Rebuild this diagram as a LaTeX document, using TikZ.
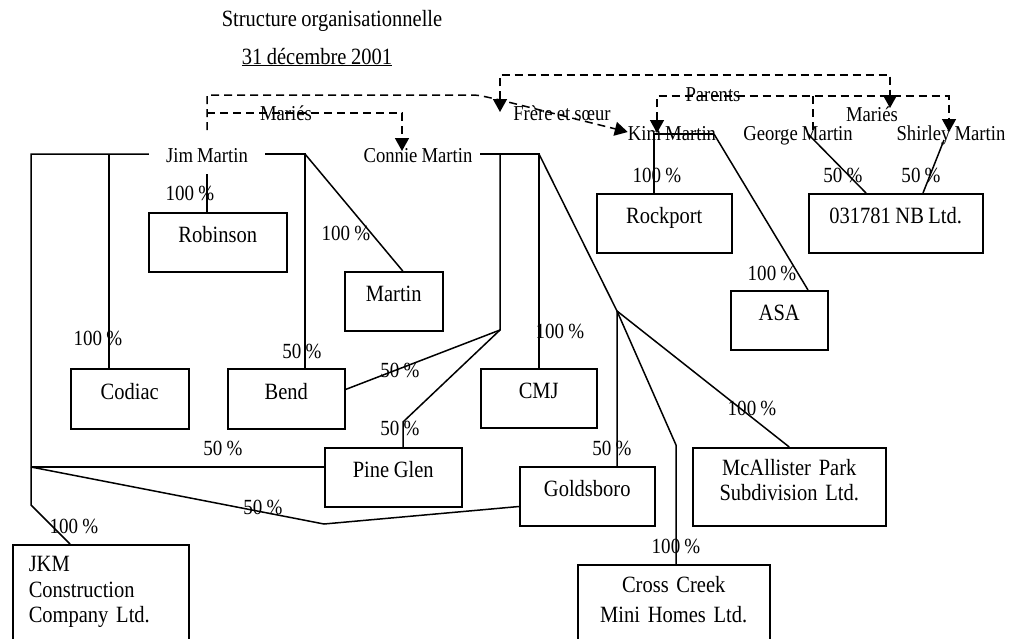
\documentclass[tikz,border=0pt]{standalone}
\usepackage{fontspec}
\setmainfont{Liberation Serif}[FakeStretch=0.88, WordSpace=0.88]
\usetikzlibrary{calc}
\usetikzlibrary{arrows.meta}
\newcommand{\firmfont}{\fontsize{23.3}{25}\selectfont}
\newcommand{\namefont}{\fontsize{21.2}{22}\selectfont}
\newcommand{\sharefont}{\fontsize{21.6}{22}\selectfont}

\begin{document}
\begin{tikzpicture}[x=1pt, y=-1pt,
  firm/.style={draw, line width=1.5pt, anchor=north west, inner sep=0pt, text height=8pt, text depth=7pt, font=\firmfont},
  person/.style={inner sep=0pt, text height=16pt, text depth=0pt, font=\namefont},
  share/.style={inner sep=0pt, font=\sharefont},
  own/.style={line width=1.5pt},
  link/.style={line width=1.5pt, dash pattern=on 8pt off 5pt},
  tip/.style={-{Triangle[length=13pt, width=14pt]}},
  tipboth/.style={{Triangle[length=13pt, width=14pt]}-{Triangle[length=13pt, width=14pt]}}
]
\useasboundingbox (0,0) rectangle (1010,638);
\clip (0,0) rectangle (1010,638);

% TITLE
\node[font=\firmfont, anchor=base] (title) at (332,26) {Structure organisationnelle};
\node[font=\firmfont, anchor=base] (date) at (317,64) {\underline{31 décembre 2001}};

% PEOPLE
\node[person, minimum width=116] (jim) at (207,154) {Jim Martin};
\node[person, minimum width=124] (connie) at (418,154) {Connie Martin};
\node[person] (kim) at (672,132) {Kim Martin};
\node[person] (george) at (798,132) {George Martin};
\node[person] (shirley) at (951,132) {Shirley Martin};

% COMPANIES
\node[firm, minimum width=138, minimum height=59] (robinson) at (148,212) {Robinson};
\node[firm, minimum width=98, minimum height=59] (martin) at (344,271) {Martin};
\node[firm, minimum width=118, minimum height=60] (codiac) at (70,368) {Codiac};
\node[firm, minimum width=117, minimum height=60] (bend) at (227,368) {Bend};
\node[firm, minimum width=116, minimum height=59] (cmj) at (480,368) {CMJ};
\node[firm, minimum width=137, minimum height=59] (pineglen) at (324,447) {Pine Glen};
\node[firm, minimum width=135, minimum height=59] (goldsboro) at (519,466) {Goldsboro};
\node[firm, inner ysep=13pt, text width=193pt, align=center, text height=15pt, text depth=37pt] (mcallister) at (692,447) {McAllister Park\\Subdivision Ltd.};
\node[firm, inner ysep=13pt, text width=192pt, align=center, text height=15pt, text depth=60pt] (crosscreek) at (577,564) {Cross Creek\\[5pt]Mini Homes Ltd.};
\node[firm, inner xsep=16pt, inner ysep=13pt, text width=144pt, align=left, text height=14pt, text depth=60pt, font=\fontsize{23.3}{25.5}\selectfont] (jkm) at (12,544) {JKM\\Construction\\Company Ltd.};
\node[firm, minimum width=135, minimum height=59] (rockport) at (596,193) {Rockport};
\node[firm, minimum width=174, minimum height=59] (nbltd) at (808,193) {031781 NB Ltd.};
\node[firm, minimum width=97, minimum height=59] (asa) at (730,290) {ASA};

% JIM MARTIN HOLDINGS
% junctions
\coordinate (jl) at (31,154);
\coordinate (jfork) at (31,467);
\coordinate (jbend) at (31,505);
\coordinate (cj) at (109,154);
\coordinate (jr) at (305,154);
\coordinate (gbend) at (324,524);
% lines
\draw[own] (jim.west) -- (jl) -- (jbend) -- ($(jkm.north west)+(58,0)$);
\draw[own] (jfork) -- (jfork -| pineglen.west);
\draw[own] (jfork) -- (gbend) -- ($(goldsboro.south west)+(0,-20)$);
\draw[own] (cj) -- (cj |- codiac.north);
\draw[own] ($(jim.center)+(0,20)$) -- (jim.center |- robinson.north);
\draw[own] (jim.east) -- (jr) -- (jr |- bend.north);
\draw[own] (jr) -- ($(martin.north)+(9,0)$);

% CONNIE MARTIN HOLDINGS
% junctions
\coordinate (cv) at (500,154);
\coordinate (cfork) at (500,330);
\coordinate (pbend) at (403,422);
\coordinate (cr) at (539,154);
\coordinate (ofork) at (617,311);
\coordinate (xbend) at (676,445);
% lines
\draw[own] (connie.east) -- (cr) -- (cr |- cmj.north);
\draw[own] (cv) -- (cfork) -- ($(bend.south east)+(0,-40)$);
\draw[own] (cfork) -- (pbend) -- (pbend |- pineglen.north);
\draw[own] (cr) -- (ofork) -- (ofork |- goldsboro.north);
\draw[own] (ofork) -- (xbend) -- (xbend |- crosscreek.north);
\draw[own] (ofork) -- (mcallister.north);

% KIM, GEORGE AND SHIRLEY HOLDINGS
\coordinate (kl) at (654,134);
\coordinate (kr) at (714,134);
\draw[own] (kr) -- (kl) -- (kl |- rockport.north);
\draw[own] (kr) -- ($(asa.north west)+(78,0)$);
\draw[own] ($(george.center)+(10,2)$) -- ($(nbltd.north west)+(58,0)$);
\draw[own] ($(shirley.center)+(-7,8)$) -- ($(nbltd.north west)+(115,0)$);

% PERCENTAGES
\node[share] (prob) at (190,193) {100 \%};
\node[share] (pmar) at (346,233) {100 \%};
\node[share] (pcod) at (98,338) {100 \%};
\node[share] (pben) at (302,351) {50 \%};
\node[share] (pbenc) at (400,370) {50 \%};
\node[share] (ppinc) at (400,428) {50 \%};
\node[share] (pcmj) at (560,331) {100 \%};
\node[share] (pasa) at (772,273) {100 \%};
\node[share] (pmca) at (752,408) {100 \%};
\node[share] (pgol) at (612,448) {50 \%};
\node[share] (pcro) at (676,546) {100 \%};
\node[share] (ppin) at (223,448) {50 \%};
\node[share] (pgolj) at (263,507) {50 \%};
\node[share] (pjkm) at (74,526) {100 \%};
\node[share] (proc) at (657,175) {100 \%};
\node[share] (pgeo) at (843,175) {50 \%};
\node[share] (pshi) at (921,175) {50 \%};

% FAMILY LINKS
% bends
\coordinate (jtop) at (207,130);
\coordinate (sibA) at (207,95);
\coordinate (sibB) at (470,95);
\coordinate (sibC) at (500,100);
\coordinate (wedA) at (207,113);
\coordinate (wedB) at (402,113);
\coordinate (topA) at (500,112);
\coordinate (topB) at (500,75);
\coordinate (topC) at (890,75);
\coordinate (topD) at (890,108);
\coordinate (parA) at (657,96);
\coordinate (parB) at (949,96);
\coordinate (parG) at (813,96);
% links
\draw[link, tip] (jtop) -- (sibA) -- (sibB) .. controls (478,95) .. (sibC) -- (kim.west);
\draw[link, tip] (wedA) -- (wedB) -- ($(connie.center)+(-16,-3)$);
\draw[link, tipboth] (topA) -- (topB) -- (topC) -- (topD);
\draw[link, tipboth] ($(kim.center)+(-15,1)$) -- (parA) -- (parB) -- ($(shirley.center)+(-2,0)$);
\draw[link] (parG) -- ($(george.center)+(15,-2)$);
% labels
\node[share, font=\namefont] (maries) at (286,113) {Mariés};
\node[share, font=\namefont] (siblings) at (562,113) {Frère et sœur};
\node[share, font=\namefont] (parents) at (713,95) {Parents};
\node[share, font=\namefont] (mariesb) at (872,114) {Mariés};

\end{tikzpicture}
\end{document}
